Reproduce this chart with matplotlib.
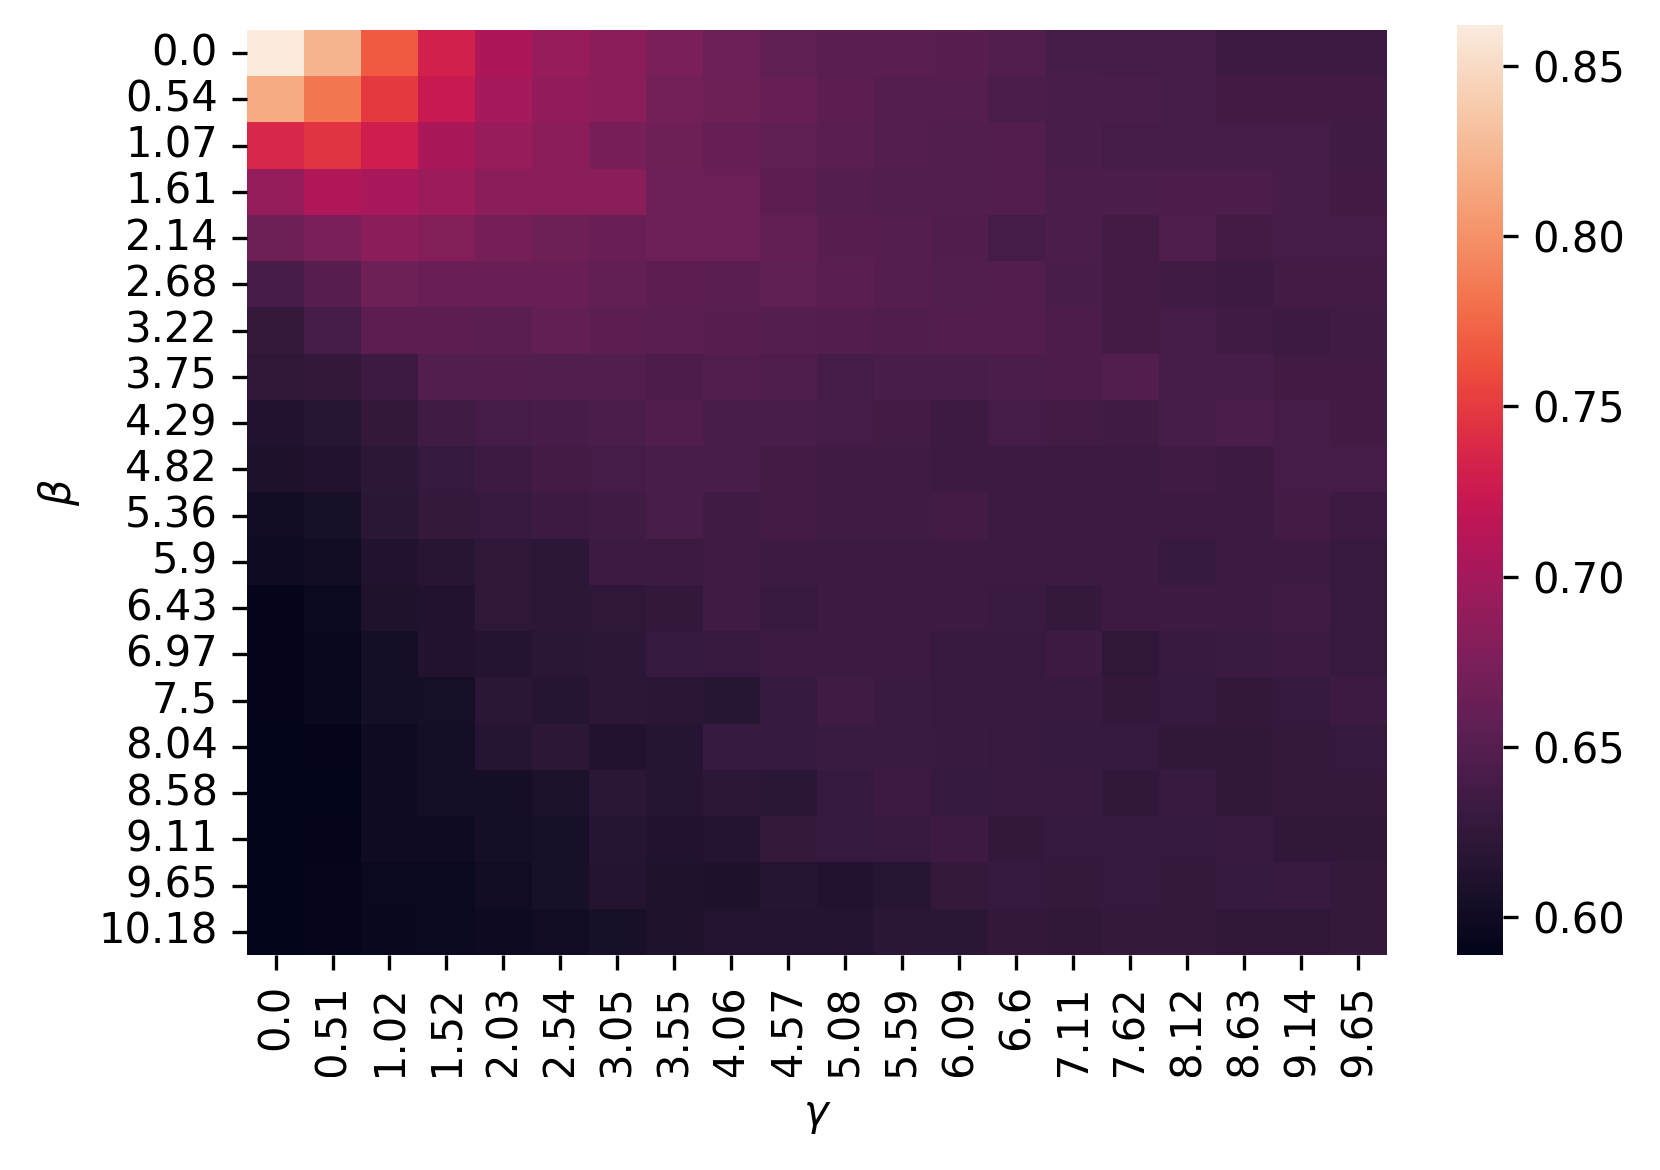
import matplotlib
matplotlib.use("Agg")
import matplotlib.pyplot as plt
from matplotlib.transforms import Bbox, TransformedBbox
import numpy as np
import seaborn as sns

# gamma (columns) and beta (rows) grid labels
gamma = ["0.0", "0.51", "1.02", "1.52", "2.03", "2.54", "3.05", "3.55", "4.06", "4.57",
         "5.08", "5.59", "6.09", "6.6", "7.11", "7.62", "8.12", "8.63", "9.14", "9.65"]
beta = ["0.0", "0.54", "1.07", "1.61", "2.14", "2.68", "3.22", "3.75", "4.29", "4.82",
        "5.36", "5.9", "6.43", "6.97", "7.5", "8.04", "8.58", "9.11", "9.65", "10.18"]

# values, one list per beta row
r00 = [0.862, 0.823, 0.768, 0.731, 0.706, 0.693, 0.684, 0.674, 0.664, 0.656, 0.654, 0.654, 0.651, 0.647, 0.640, 0.639, 0.639, 0.632, 0.632, 0.633]
r01 = [0.817, 0.785, 0.749, 0.724, 0.701, 0.689, 0.684, 0.670, 0.665, 0.661, 0.655, 0.650, 0.650, 0.643, 0.642, 0.642, 0.639, 0.636, 0.636, 0.636]
r02 = [0.737, 0.745, 0.729, 0.704, 0.693, 0.684, 0.673, 0.665, 0.661, 0.657, 0.653, 0.649, 0.647, 0.648, 0.642, 0.639, 0.639, 0.639, 0.639, 0.635]
r03 = [0.691, 0.707, 0.703, 0.695, 0.685, 0.683, 0.683, 0.666, 0.664, 0.655, 0.649, 0.647, 0.647, 0.648, 0.643, 0.643, 0.644, 0.644, 0.640, 0.636]
r04 = [0.665, 0.674, 0.683, 0.680, 0.671, 0.665, 0.663, 0.666, 0.664, 0.658, 0.651, 0.650, 0.646, 0.639, 0.643, 0.638, 0.645, 0.637, 0.639, 0.639]
r05 = [0.641, 0.651, 0.665, 0.663, 0.663, 0.663, 0.658, 0.655, 0.653, 0.656, 0.653, 0.650, 0.647, 0.648, 0.642, 0.638, 0.635, 0.633, 0.638, 0.637]
r06 = [0.627, 0.639, 0.655, 0.655, 0.653, 0.658, 0.655, 0.654, 0.651, 0.649, 0.648, 0.646, 0.648, 0.648, 0.644, 0.638, 0.639, 0.635, 0.633, 0.635]
r07 = [0.623, 0.626, 0.633, 0.647, 0.648, 0.647, 0.647, 0.644, 0.647, 0.645, 0.639, 0.642, 0.642, 0.643, 0.644, 0.647, 0.640, 0.640, 0.636, 0.636]
r08 = [0.613, 0.617, 0.626, 0.635, 0.639, 0.641, 0.643, 0.646, 0.642, 0.642, 0.639, 0.638, 0.633, 0.639, 0.637, 0.635, 0.640, 0.643, 0.639, 0.636]
r09 = [0.610, 0.613, 0.622, 0.628, 0.633, 0.637, 0.639, 0.642, 0.642, 0.637, 0.635, 0.635, 0.633, 0.633, 0.633, 0.633, 0.635, 0.633, 0.639, 0.639]
r10 = [0.601, 0.607, 0.619, 0.627, 0.629, 0.633, 0.635, 0.642, 0.635, 0.637, 0.635, 0.635, 0.637, 0.633, 0.633, 0.633, 0.633, 0.632, 0.638, 0.633]
r11 = [0.599, 0.601, 0.613, 0.618, 0.623, 0.621, 0.633, 0.633, 0.635, 0.633, 0.633, 0.632, 0.633, 0.632, 0.632, 0.633, 0.628, 0.632, 0.632, 0.629]
r12 = [0.591, 0.596, 0.611, 0.613, 0.623, 0.622, 0.623, 0.626, 0.635, 0.629, 0.632, 0.632, 0.633, 0.631, 0.627, 0.633, 0.633, 0.632, 0.635, 0.629]
r13 = [0.591, 0.595, 0.604, 0.613, 0.615, 0.619, 0.621, 0.628, 0.629, 0.632, 0.632, 0.632, 0.629, 0.629, 0.632, 0.623, 0.629, 0.631, 0.632, 0.629]
r14 = [0.591, 0.595, 0.603, 0.606, 0.619, 0.616, 0.621, 0.620, 0.617, 0.628, 0.635, 0.631, 0.629, 0.629, 0.630, 0.626, 0.628, 0.626, 0.628, 0.633]
r15 = [0.590, 0.591, 0.599, 0.604, 0.616, 0.622, 0.613, 0.616, 0.628, 0.628, 0.631, 0.631, 0.630, 0.629, 0.628, 0.628, 0.625, 0.625, 0.627, 0.628]
r16 = [0.590, 0.589, 0.599, 0.603, 0.604, 0.609, 0.619, 0.616, 0.621, 0.619, 0.628, 0.633, 0.628, 0.629, 0.630, 0.625, 0.630, 0.625, 0.627, 0.627]
r17 = [0.589, 0.591, 0.599, 0.599, 0.604, 0.606, 0.616, 0.613, 0.615, 0.627, 0.628, 0.629, 0.633, 0.626, 0.628, 0.628, 0.628, 0.630, 0.625, 0.625]
r18 = [0.590, 0.592, 0.596, 0.597, 0.601, 0.607, 0.615, 0.611, 0.610, 0.616, 0.613, 0.617, 0.627, 0.628, 0.627, 0.628, 0.627, 0.628, 0.630, 0.627]
r19 = [0.590, 0.592, 0.595, 0.597, 0.598, 0.601, 0.607, 0.611, 0.614, 0.614, 0.615, 0.619, 0.619, 0.626, 0.625, 0.627, 0.627, 0.624, 0.624, 0.627]

grid = np.array([r00, r01, r02, r03, r04, r05, r06, r07, r08, r09,
                 r10, r11, r12, r13, r14, r15, r16, r17, r18, r19])

plt.rcParams['font.size'] = 10
fig = plt.figure(figsize=(1660 / 300, 1170 / 300), dpi=300)
ax = fig.add_axes([0.1488, 0.1838, 0.6867, 0.7906])
cax = fig.add_axes([0.8777, 0.1838, 0.0277, 0.7949])

sns.heatmap(grid, ax=ax, cbar_ax=cax, cmap='rocket',
            xticklabels=gamma, yticklabels=beta)
ax.set_xlabel(r'$\gamma$')
ax.set_ylabel(r'$\beta$')
ax.set_yticklabels(beta, rotation=0)
ax.set_xticklabels(gamma, rotation=90)

# the x tick labels are cut off at the bottom in the original
clip = TransformedBbox(Bbox([[0, 0.0795], [1, 1]]), fig.transFigure)
for t in ax.get_xticklabels():
    t.set_clip_box(clip)
    t.set_clip_on(True)

fig.savefig('out.png', dpi=300)
